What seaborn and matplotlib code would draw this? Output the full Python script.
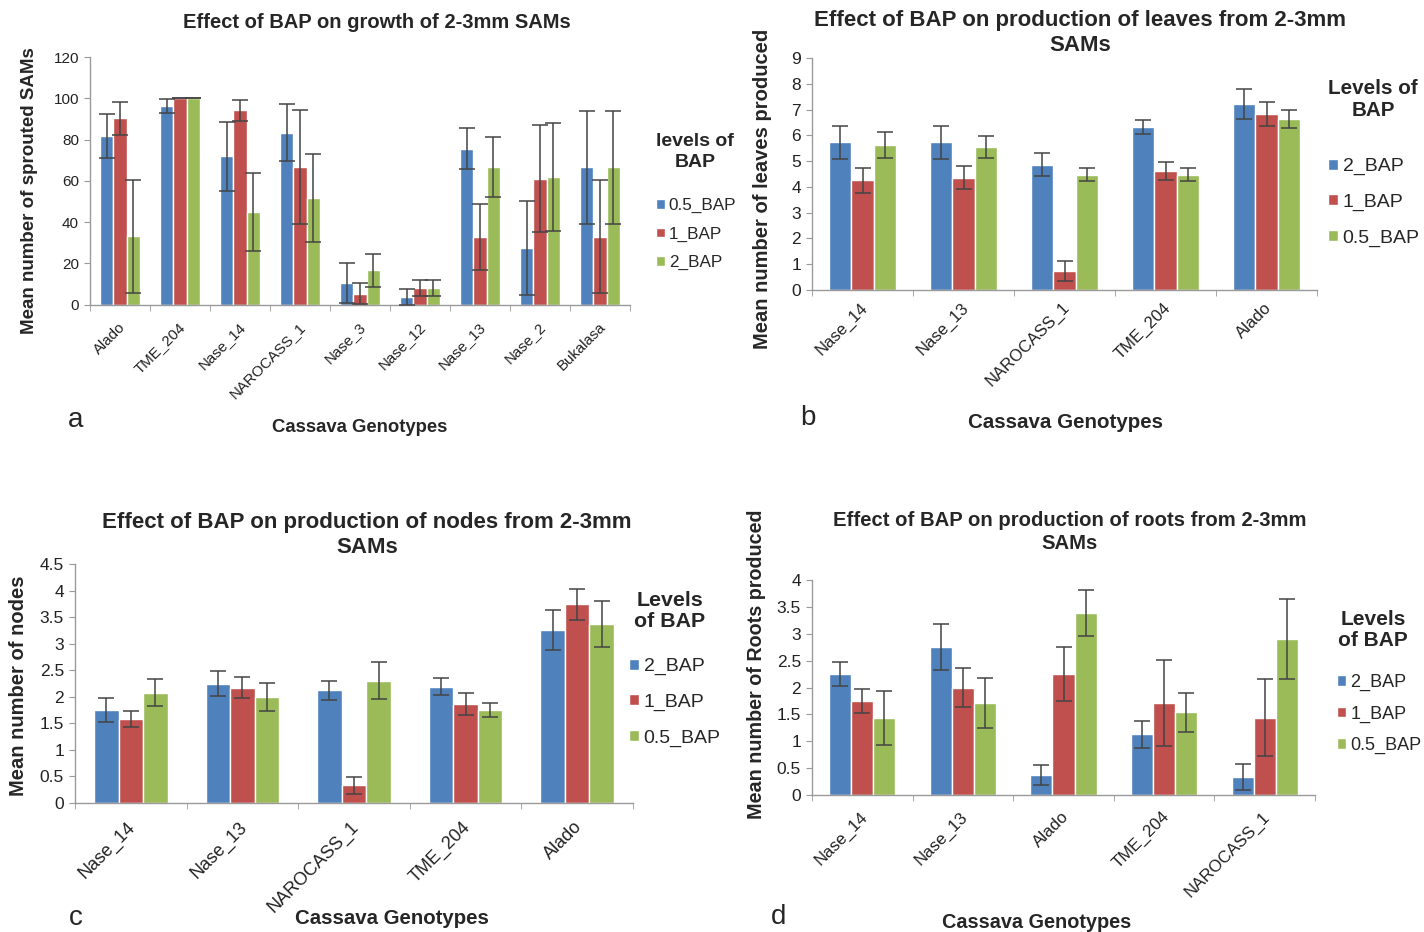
import numpy as np
import pandas as pd
import seaborn as sns
import matplotlib.pyplot as plt
import matplotlib.transforms as mtransforms
from matplotlib.ticker import FixedLocator, FuncFormatter

# ---- data ----
genotypes_a = ["Alado", "TME_204", "Nase_14", "NAROCASS_1", "Nase_3",
               "Nase_12", "Nase_13", "Nase_2", "Bukalasa"]
levels_a = ["0.5_BAP", "1_BAP", "2_BAP"]
sprouted_05 = [81.5, 96.2, 71.9, 83.2, 10.4, 3.7, 75.5, 27.3, 66.5]
sprouted_1 = [90.2, 100, 94.2, 66.6, 5.2, 8.1, 32.9, 61.0, 32.9]
sprouted_2 = [33.0, 100, 44.9, 51.7, 16.5, 8.1, 66.6, 61.8, 66.5]
sprouted_05_err = [10.7, 3.4, 16.8, 13.8, 9.5, 4, 10, 22.8, 27.5]
sprouted_1_err = [8, 0, 5, 27.6, 5, 4, 16, 26, 27.5]
sprouted_2_err = [27.4, 0, 19, 21.4, 8, 4, 14.4, 26, 27.5]

genotypes_bc = ["Nase_14", "Nase_13", "NAROCASS_1", "TME_204", "Alado"]
levels_bcd = ["2_BAP", "1_BAP", "0.5_BAP"]
leaves_2 = [5.73, 5.73, 4.86, 6.32, 7.23]
leaves_1 = [4.26, 4.36, 0.73, 4.61, 6.82]
leaves_05 = [5.62, 5.56, 4.48, 4.48, 6.64]
leaves_2_err = [0.65, 0.65, 0.45, 0.28, 0.58]
leaves_1_err = [0.48, 0.45, 0.40, 0.36, 0.47]
leaves_05_err = [0.50, 0.43, 0.26, 0.27, 0.35]

nodes_2 = [1.75, 2.25, 2.12, 2.19, 3.26]
nodes_1 = [1.58, 2.17, 0.33, 1.87, 3.74]
nodes_05 = [2.08, 2.00, 2.30, 1.75, 3.37]
nodes_2_err = [0.23, 0.24, 0.18, 0.16, 0.37]
nodes_1_err = [0.15, 0.20, 0.16, 0.21, 0.29]
nodes_05_err = [0.25, 0.26, 0.35, 0.14, 0.43]

genotypes_d = ["Nase_14", "Nase_13", "Alado", "TME_204", "NAROCASS_1"]
roots_2 = [2.25, 2.75, 0.37, 1.13, 0.33]
roots_1 = [1.75, 2.00, 2.25, 1.71, 1.44]
roots_05 = [1.43, 1.71, 3.38, 1.54, 2.90]
roots_2_err = [0.23, 0.43, 0.18, 0.25, 0.24]
roots_1_err = [0.22, 0.37, 0.50, 0.80, 0.72]
roots_05_err = [0.50, 0.46, 0.43, 0.36, 0.74]

BLUE, RED, GREEN = "#4F81BD", "#C0504D", "#9BBB59"

sns.set_style("white")
plt.rcParams["font.family"] = ["Liberation Sans", "DejaVu Sans"]

W, H = 1424, 932
fig = plt.figure(figsize=(W / 100, H / 100), dpi=100)


def px(x, y):
    # pixel position (from top-left) -> figure fraction
    return x / W, 1 - y / H


def panel(rect, genotypes, levels, series, errs, colors, ymax, ystep,
          tick_fs, xtick_fs, xpad):
    left, top, right, bottom = rect
    ax = fig.add_axes([left / W, 1 - bottom / H, (right - left) / W, (bottom - top) / H])
    rows = []
    for lev, vals in zip(levels, series):
        for g, v in zip(genotypes, vals):
            rows.append({"genotype": g, "level": lev, "value": v})
    df = pd.DataFrame(rows)
    sns.barplot(data=df, x="genotype", y="value", hue="level", order=genotypes,
                hue_order=levels, palette=colors, width=0.66, saturation=1,
                errorbar=None, legend=False, ax=ax)
    for cont, err in zip(ax.containers, errs):
        xs = [b.get_x() + b.get_width() / 2 for b in cont]
        ys = [b.get_height() for b in cont]
        ax.errorbar(xs, ys, yerr=err, fmt="none", ecolor="#444444",
                    elinewidth=1.1, capsize=6, capthick=1.1, zorder=5)
    ax.set_xlim(-0.5, len(genotypes) - 0.5)
    ax.set_ylim(0, ymax)
    ax.set_yticks(np.arange(0, ymax + ystep / 2, ystep))
    ax.yaxis.set_major_formatter(FuncFormatter(lambda v, p: f"{v:g}"))
    ax.set_xlabel("")
    ax.set_ylabel("")
    for s in ["top", "right"]:
        ax.spines[s].set_visible(False)
    for s in ["left", "bottom"]:
        ax.spines[s].set_color("#9a9a9a")
        ax.spines[s].set_linewidth(1.0)
    ax.tick_params(axis="y", length=4, color="#9a9a9a", labelsize=tick_fs,
                   labelcolor="#222222", left=True, pad=4)
    ax.tick_params(axis="x", which="major", length=0, labelsize=xtick_fs,
                   labelcolor="#222222", pad=xpad)
    ax.xaxis.set_minor_locator(FixedLocator(np.arange(-0.5, len(genotypes), 1.0)))
    ax.tick_params(axis="x", which="minor", length=4, color="#9a9a9a", bottom=True)
    shift = mtransforms.ScaledTranslation(0.08, 0, fig.dpi_scale_trans)
    for lab in ax.get_xticklabels():
        lab.set_rotation(45)
        lab.set_ha("right")
        lab.set_va("top")
        lab.set_transform(lab.get_transform() + shift)
    return ax


def legend(ax, labels, x, y, fs, spacing):
    handles = [c.patches[0] for c in ax.containers[:len(labels)]]
    fig.legend(handles, labels, loc="upper left", bbox_to_anchor=px(x, y),
               frameon=False, fontsize=fs, handlelength=0.5, handleheight=0.5,
               handletextpad=0.25, labelspacing=spacing, borderpad=0,
               borderaxespad=0)


# ---- panel a ----
ax_a = panel((90, 57, 630, 304.5), genotypes_a, levels_a,
             [sprouted_05, sprouted_1, sprouted_2],
             [sprouted_05_err, sprouted_1_err, sprouted_2_err],
             [BLUE, RED, GREEN], 120, 20, 11, 10.8, 11)
fig.text(*px(377, 23), "Effect of BAP on growth of 2-3mm SAMs", ha="center",
         va="center", fontsize=14.5, fontweight="bold")
fig.text(*px(30, 191), "Mean number of sprouted SAMs", rotation=90, ha="center",
         va="center", fontsize=13.5, fontweight="bold")
fig.text(*px(360, 427), "Cassava Genotypes", ha="center", va="center",
         fontsize=13.3, fontweight="bold")
fig.text(*px(695, 152), "levels of\nBAP", ha="center", va="center",
         fontsize=14, fontweight="bold", linespacing=1.35)
legend(ax_a, levels_a, 656, 198, 12.3, 0.78)
fig.text(*px(76, 420), "a", ha="center", va="center", fontsize=20)

# ---- panel b ----
ax_b = panel((812, 58, 1317, 290), genotypes_bc, levels_bcd,
             [leaves_2, leaves_1, leaves_05],
             [leaves_2_err, leaves_1_err, leaves_05_err],
             [BLUE, RED, GREEN], 9, 1, 12.5, 12, 7)
fig.text(*px(1080, 33), "Effect of BAP on production of leaves from 2-3mm\nSAMs",
         ha="center", va="center", fontsize=16, fontweight="bold", linespacing=1.25)
fig.text(*px(762, 189), "Mean number of leaves produced", rotation=90, ha="center",
         va="center", fontsize=14.5, fontweight="bold")
fig.text(*px(1065, 423), "Cassava Genotypes", ha="center", va="center",
         fontsize=14.8, fontweight="bold")
fig.text(*px(1373, 99), "Levels of\nBAP", ha="center", va="center",
         fontsize=14.9, fontweight="bold", linespacing=1.2)
legend(ax_b, levels_bcd, 1328, 158, 14, 0.96)
fig.text(*px(808, 418), "b", ha="center", va="center", fontsize=20)

# ---- panel c ----
ax_c = panel((75, 564, 633, 803), genotypes_bc, levels_bcd,
             [nodes_2, nodes_1, nodes_05],
             [nodes_2_err, nodes_1_err, nodes_05_err],
             [BLUE, RED, GREEN], 4.5, 0.5, 12.5, 13, 11)
fig.text(*px(367, 535), "Effect of BAP on production of nodes from 2-3mm\nSAMs",
         ha="center", va="center", fontsize=16, fontweight="bold", linespacing=1.2)
fig.text(*px(19, 686), "Mean number of nodes", rotation=90, ha="center",
         va="center", fontsize=14.5, fontweight="bold")
fig.text(*px(392, 918), "Cassava Genotypes", ha="center", va="center",
         fontsize=14.7, fontweight="bold")
fig.text(*px(670, 611), "Levels\nof BAP", ha="center", va="center",
         fontsize=15.4, fontweight="bold", linespacing=1.15)
legend(ax_c, levels_bcd, 629, 658, 14, 0.96)
fig.text(*px(76, 918), "c", ha="center", va="center", fontsize=20)

# ---- panel d ----
ax_d = panel((812, 580, 1315, 795), genotypes_d, levels_bcd,
             [roots_2, roots_1, roots_05],
             [roots_2_err, roots_1_err, roots_05_err],
             [BLUE, RED, GREEN], 4, 0.5, 12.5, 12.2, 10)
fig.text(*px(1070, 532), "Effect of BAP on production of roots from 2-3mm\nSAMs",
         ha="center", va="center", fontsize=14.6, fontweight="bold", linespacing=1.3)
fig.text(*px(756, 664), "Mean number of Roots produced", rotation=90, ha="center",
         va="center", fontsize=14.2, fontweight="bold")
fig.text(*px(1037, 922), "Cassava Genotypes", ha="center", va="center",
         fontsize=14.3, fontweight="bold")
fig.text(*px(1373, 630), "Levels\nof BAP", ha="center", va="center",
         fontsize=15, fontweight="bold", linespacing=1.1)
legend(ax_d, levels_bcd, 1337, 674, 13, 0.79)
fig.text(*px(779, 917), "d", ha="center", va="center", fontsize=20)

fig.savefig("out.png", dpi=100)
